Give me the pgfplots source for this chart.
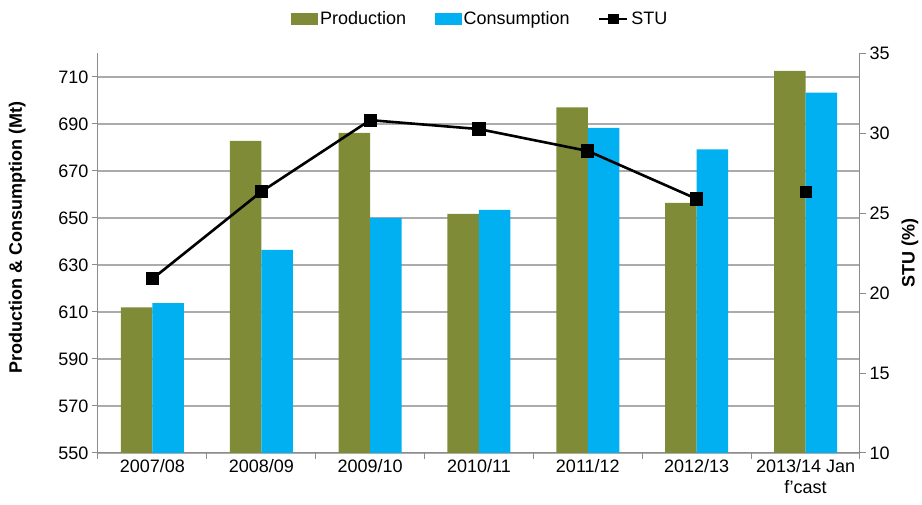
\documentclass[border=0pt]{standalone}
\usepackage{fontspec}
\setmainfont{Liberation Sans}
\usepackage{pgfplots}
\pgfplotsset{compat=1.18}
\definecolor{prodc}{HTML}{7F8B37}
\definecolor{consc}{HTML}{00B0F0}
\definecolor{gridc}{HTML}{ABABAB}
\definecolor{axc}{HTML}{8C8C8C}
\pgfplotsset{/pgf/number format/assume math mode=true}
\newcommand{\fs}{\fontsize{18}{21}\selectfont}
\begin{document}
\begin{tikzpicture}
\path[use as bounding box] (-98pt,-52pt) rectangle (824pt,453pt);
\begin{axis}[
  scale only axis, width=762pt, height=399.5pt,
  xmin=-0.5, xmax=6.5, ymin=550, ymax=720,
  axis x line*=bottom, axis y line*=left,
  axis line style={axc, line width=1pt, -},
  ytick={550,570,...,710},
  ymajorgrids, grid style={gridc, line width=1.3pt},
  tick align=outside, major tick length=6pt,
  tick style={axc, line width=1pt},
  xtick={-0.5,0.5,...,6.5}, xticklabels={},
  extra x ticks={0,1,2,3,4,5,6},
  extra x tick labels={2007/08,2008/09,2009/10,2010/11,2011/12,2012/13,{2013/14 Jan\\f’cast}},
  extra x tick style={major tick length=0pt, grid=none,
     xticklabel style={align=center, font=\fs, yshift=-3pt}},
  yticklabel style={font=\fs},
  ylabel={Production \& Consumption (Mt)},
  ylabel style={at={(axis description cs:-0.106,0.54)}, anchor=center, font=\bfseries\fs},
  ybar=0pt, bar width=31.5pt,
]
\addplot[fill=prodc, draw=none] coordinates {(0,612.0) (1,682.8) (2,686.2) (3,651.8) (4,697.1) (5,656.4) (6,712.6)};
\addplot[fill=consc, draw=none] coordinates {(0,613.8) (1,636.4) (2,650.0) (3,653.5) (4,688.4) (5,679.2) (6,703.3)};
\end{axis}
\begin{axis}[
  scale only axis, width=762pt, height=399.5pt,
  xmin=-0.5, xmax=6.5, ymin=10, ymax=35,
  hide x axis, axis y line*=right,
  axis line style={axc, line width=1pt, -},
  ytick={10,15,...,35},
  tick align=outside, major tick length=6pt,
  tick style={axc, line width=1pt},
  yticklabel style={font=\fs},
  ylabel={STU (\%)},
  ylabel style={at={(axis description cs:1.0656,0.5)}, anchor=center, font=\bfseries\fs},
  legend columns=3,
  legend style={draw=none, fill=none, at={(0.502,1.0864)}, anchor=center, font=\fs,
     inner sep=0pt, nodes={inner sep=2.5pt},
     /tikz/every even column/.append style={column sep=26pt}},
]
\addlegendimage{legend image code/.code={\fill[prodc] (0pt,-5.5pt) rectangle (26pt,5.5pt);}}
\addlegendentry{Production}
\addlegendimage{legend image code/.code={\fill[consc] (0pt,-5.5pt) rectangle (26pt,5.5pt);}}
\addlegendentry{Consumption}
\addplot[black, line width=2.6pt, mark=square*, mark size=5.3pt,
  legend image code/.code={\draw[black, line width=2.8pt, mark=square*, mark size=4pt, mark repeat=2, mark phase=2] plot coordinates {(0pt,0pt) (14pt,0pt) (28pt,0pt)};}]
  coordinates {(0,20.9) (1,26.35) (2,30.83) (3,30.27) (4,28.9) (5,25.9)};
\addlegendentry{STU}
\addplot[black, only marks, mark=square*, mark size=5.3pt, forget plot] coordinates {(6,26.35)};
\end{axis}
\end{tikzpicture}
\end{document}
